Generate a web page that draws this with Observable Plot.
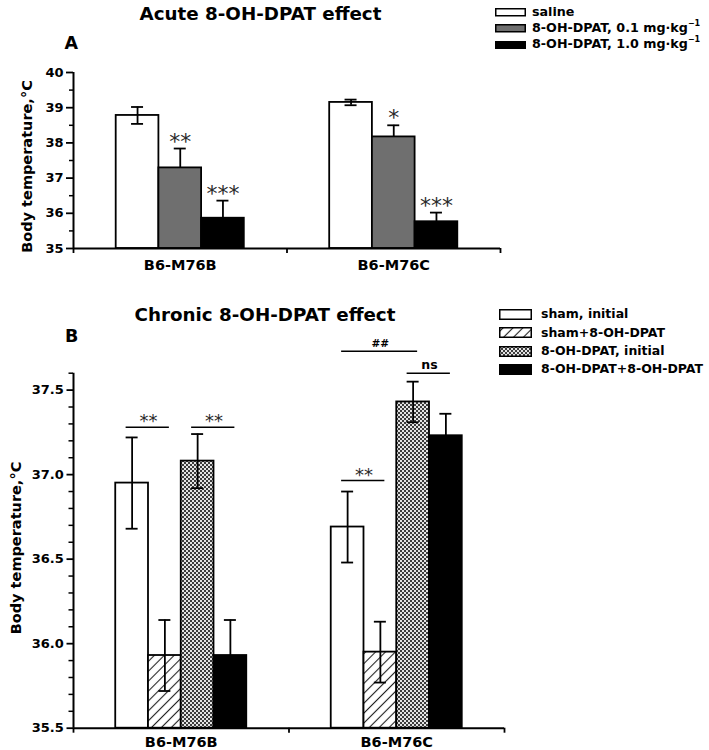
<!DOCTYPE html>
<html><head><meta charset="utf-8">
<script src="https://cdn.jsdelivr.net/npm/d3@7"></script>
<script src="https://cdn.jsdelivr.net/npm/@observablehq/plot@0.6"></script>
<style>
body{margin:0;background:#fff;}
#wrap{position:relative;width:709px;height:750px;font-family:"DejaVu Sans";color:#000;overflow:hidden;background:#fff;}
.abs{position:absolute;white-space:nowrap;line-height:1;font-weight:bold;font-family:"DejaVu Sans";}
.abs sup{font-size:8px;line-height:0;vertical-align:6px;}
</style></head><body><div id="wrap"></div>
<script>
// ---------- data ----------
const groups = ["B6-M76B", "B6-M76C"];

// Panel A: acute effect
const acuteSeries = ["saline", "8-OH-DPAT, 0.1 mg·kg⁻¹", "8-OH-DPAT, 1.0 mg·kg⁻¹"];
const acuteSaline = [38.78, 39.15];
const acuteSalineSem = [0.24, 0.08];
const acuteLow = [37.29, 38.17];
const acuteLowSem = [0.55, 0.33];
const acuteHigh = [35.86, 35.76];
const acuteHighSem = [0.50, 0.26];
const acuteStars = [["", ""], ["**", "*"], ["***", "***"]];
const yTicksA = [35, 36, 37, 38, 39, 40];
const yMinorA = [35.5, 36.5, 37.5, 38.5, 39.5];

// Panel B: chronic effect
const chronicSeries = ["sham, initial", "sham+8-OH-DPAT", "8-OH-DPAT, initial", "8-OH-DPAT+8-OH-DPAT"];
const chronicShamInit = [36.95, 36.69];
const chronicShamInitSem = [0.27, 0.21];
const chronicShamDpat = [35.93, 35.95];
const chronicShamDpatSem = [0.21, 0.18];
const chronicDpatInit = [37.08, 37.43];
const chronicDpatInitSem = [0.16, 0.12];
const chronicDpatDpat = [35.93, 37.23];
const chronicDpatDpatSem = [0.21, 0.13];
const sigGroup = [0, 0, 1, 1, 1];
const sigFrom = [0, 2, 0, 0, 2];
const sigTo = [1, 3, 1, 2, 3];
const sigY = [37.28, 37.28, 36.965, 37.73, 37.60];
const sigLabel = ["**", "**", "**", "##", "ns"];
const yTicksB = [35.5, 36.0, 36.5, 37.0, 37.5];
const yMinorB = [35.6, 35.7, 35.8, 35.9, 36.1, 36.2, 36.3, 36.4, 36.6, 36.7, 36.8, 36.9, 37.1, 37.2, 37.3, 37.4, 37.6];

// ---------- styles ----------
const acuteFill = ["white", "#6f6f6f", "black"];
const chronicFill = ["white", "url(#hatch)", "url(#checker)", "black"];
const FONT = "DejaVu Sans";

const wrap = document.getElementById("wrap");

// pattern defs
const defs = document.createElementNS("http://www.w3.org/2000/svg", "svg");
defs.setAttribute("width", "0"); defs.setAttribute("height", "0");
defs.style.position = "absolute";
defs.innerHTML = `<defs>
<pattern id="hatch" patternUnits="userSpaceOnUse" width="7" height="7" patternTransform="rotate(45)">
<rect width="7" height="7" fill="white"/>
<line x1="3.5" y1="0" x2="3.5" y2="7" stroke="#222" stroke-width="1.1"/>
</pattern>
<pattern id="checker" patternUnits="userSpaceOnUse" width="4" height="4">
<rect width="4" height="4" fill="#e4e4e4"/>
<rect width="2" height="2" fill="#3c3c3c"/>
<rect x="2" y="2" width="2" height="2" fill="#3c3c3c"/>
</pattern></defs>`;
wrap.appendChild(defs);

function center(g, i, n, w) { return g + 0.5 + (i - (n - 1) / 2) * w; }

// ---------- Panel A ----------
const wA = 0.2;
const acuteVals = [acuteSaline, acuteLow, acuteHigh];
const acuteSems = [acuteSalineSem, acuteLowSem, acuteHighSem];
const rowsA = [];
groups.forEach((g, gi) => acuteSeries.forEach((s, si) => {
  const mean = acuteVals[si][gi], sem = acuteSems[si][gi], c = center(gi, si, acuteSeries.length, wA);
  rowsA.push({group: g, series: s, mean, sem, x: c, x1: c - wA / 2, x2: c + wA / 2,
    fill: acuteFill[si], hi: mean + sem, lo: si === 0 ? mean - sem : mean, lower: si === 0, star: acuteStars[si][gi]});
}));

const plotA = Plot.plot({
  width: 709, height: 290, marginLeft: 73, marginRight: 209, marginTop: 72, marginBottom: 42,
  x: {domain: [0, 2], axis: null},
  y: {domain: [35, 40], axis: null},
  color: {type: "identity"},
  style: {fontFamily: FONT, color: "black", background: "transparent", overflow: "visible"},
  marks: [
    Plot.rectY(rowsA, {x1: "x1", x2: "x2", y1: () => 35, y2: "mean", fill: "fill", stroke: "black", strokeWidth: 1.8}),
    Plot.ruleX(rowsA, {x: "x", y1: "lo", y2: "hi", strokeWidth: 1.8}),
    Plot.ruleY(rowsA, {y: "hi", x1: "x", x2: "x", insetLeft: -6, insetRight: -6, strokeWidth: 1.8}),
    Plot.ruleY(rowsA.filter(d => d.lower), {y: "lo", x1: "x", x2: "x", insetLeft: -6, insetRight: -6, strokeWidth: 1.8}),
    Plot.text(rowsA.filter(d => d.star), {x: "x", y: "hi", text: "star", lineAnchor: "bottom", fontSize: 22, fill: "#2a2a2a"}),
    Plot.ruleX([0], {strokeWidth: 2}),
    Plot.ruleY([35], {strokeWidth: 2}),
    Plot.axisY({ticks: yTicksA, tickSize: 7, tickPadding: 3, tickFormat: d3.format("d"), fontSize: 13, fontWeight: "bold", strokeWidth: 1.8, label: null}),
    Plot.axisY({ticks: yMinorA, tickSize: 4, tickFormat: () => "", strokeWidth: 1.5, label: null}),
    Plot.axisX({ticks: [0, 1, 2], tickSize: 5, tickFormat: () => "", strokeWidth: 1.8, label: null}),
    Plot.axisX({ticks: [0.5, 1.5], tickSize: 0, tickPadding: 11.7, tickFormat: v => groups[Math.floor(v)], fontSize: 14.5, fontWeight: "bold", label: null}),
    Plot.text(["Body temperature,°C"], {text: d => d, frameAnchor: "left", textAnchor: "middle", rotate: -90, dx: -46.6, dy: 6, fontSize: 14.5, fontWeight: "bold"})
  ]
});
plotA.style.position = "absolute"; plotA.style.left = "0px"; plotA.style.top = "0px";
wrap.appendChild(plotA);

// ---------- Panel B ----------
const wB = 0.152;
const chronicVals = [chronicShamInit, chronicShamDpat, chronicDpatInit, chronicDpatDpat];
const chronicSems = [chronicShamInitSem, chronicShamDpatSem, chronicDpatInitSem, chronicDpatDpatSem];
const rowsB = [];
groups.forEach((g, gi) => chronicSeries.forEach((s, si) => {
  const mean = chronicVals[si][gi], sem = chronicSems[si][gi], c = center(gi, si, chronicSeries.length, wB);
  const lower = si !== 3;
  rowsB.push({group: g, series: s, mean, sem, x: c, x1: c - wB / 2, x2: c + wB / 2,
    fill: chronicFill[si], hi: mean + sem, lo: lower ? mean - sem : mean, lower});
}));
const sigRows = sigLabel.map((label, k) => {
  const a = center(sigGroup[k], sigFrom[k], chronicSeries.length, wB);
  const b = center(sigGroup[k], sigTo[k], chronicSeries.length, wB);
  return {label, y: sigY[k], x1: a, x2: b, xm: (a + b) / 2, star: label.startsWith("*")};
});

const plotB = Plot.plot({
  width: 709, height: 460, marginLeft: 73, marginRight: 205, marginTop: 82.7, marginBottom: 22.3,
  x: {domain: [0, 2], axis: null},
  y: {domain: [35.5, 37.6], axis: null},
  color: {type: "identity"},
  style: {fontFamily: FONT, color: "black", background: "transparent", overflow: "visible"},
  marks: [
    Plot.rectY(rowsB, {x1: "x1", x2: "x2", y1: () => 35.5, y2: "mean", fill: "fill", stroke: "black", strokeWidth: 1.8}),
    Plot.ruleX(rowsB, {x: "x", y1: "lo", y2: "hi", strokeWidth: 1.8}),
    Plot.ruleY(rowsB, {y: "hi", x1: "x", x2: "x", insetLeft: -6, insetRight: -6, strokeWidth: 1.8}),
    Plot.ruleY(rowsB.filter(d => d.lower), {y: "lo", x1: "x", x2: "x", insetLeft: -6, insetRight: -6, strokeWidth: 1.8}),
    Plot.ruleY(sigRows, {y: "y", x1: "x1", x2: "x2", insetLeft: -6, insetRight: -4.5, strokeWidth: 1.5}),
    Plot.text(sigRows.filter(d => d.star), {x: "xm", y: "y", text: "label", lineAnchor: "bottom", fontSize: 18, fill: "#2a2a2a"}),
    Plot.text(sigRows.filter(d => !d.star), {x: "xm", y: "y", text: "label", lineAnchor: "bottom", dy: -4, fontSize: d => d.label === "##" ? 10.5 : 12.5, fontWeight: "bold"}),
    Plot.ruleX([0], {strokeWidth: 2}),
    Plot.ruleY([35.5], {strokeWidth: 2}),
    Plot.axisY({ticks: yTicksB, tickSize: 6.5, tickPadding: 3.2, tickFormat: d3.format(".1f"), fontSize: 13, fontWeight: "bold", strokeWidth: 1.8, label: null}),
    Plot.axisY({ticks: yMinorB, tickSize: 4.5, tickFormat: () => "", strokeWidth: 1.5, label: null}),
    Plot.axisX({ticks: [0, 1, 2], tickSize: 5, tickFormat: () => "", strokeWidth: 1.8, label: null}),
    Plot.axisX({ticks: [0.5, 1.5], tickSize: 0, tickPadding: 8.7, tickFormat: v => groups[Math.floor(v)], fontSize: 14.5, fontWeight: "bold", label: null}),
    Plot.text(["Body temperature,°C"], {text: d => d, frameAnchor: "left", textAnchor: "middle", rotate: -90, dx: -57, dy: -2.7, fontSize: 14.5, fontWeight: "bold"})
  ]
});
plotB.style.position = "absolute"; plotB.style.left = "0px"; plotB.style.top = "290px";
wrap.appendChild(plotB);

// ---------- titles, panel letters ----------
function addText(html, left, baseline, size, centered) {
  const d = document.createElement("div");
  d.className = "abs";
  d.innerHTML = html;
  d.style.fontSize = size + "px";
  d.style.left = left + "px";
  d.style.top = (baseline - 0.846 * size) + "px";
  if (centered) d.style.transform = "translateX(-50%)";
  wrap.appendChild(d);
  return d;
}
addText("Acute 8-OH-DPAT effect", 260.5, 20.3, 18.3, true);
addText("Chronic 8-OH-DPAT effect", 265, 321.7, 18.3, true);
addText("A", 64.5, 50, 17.5, false);
addText("B", 65, 343.3, 17.5, false);

// ---------- legends ----------
function swatch(fill, left, top, w, h) {
  const s = document.createElementNS("http://www.w3.org/2000/svg", "svg");
  s.setAttribute("width", w); s.setAttribute("height", h);
  s.style.position = "absolute"; s.style.left = left + "px"; s.style.top = top + "px";
  s.innerHTML = `<rect x="0.75" y="0.75" width="${w - 1.5}" height="${h - 1.5}" fill="${fill}" stroke="black" stroke-width="1.5"/>`;
  wrap.appendChild(s);
}
const fmtLabel = s => s.replace("⁻¹", "<sup>−1</sup>");
acuteSeries.forEach((s, i) => {
  const top = 8 + i * 16.3;
  swatch(acuteFill[i], 495, top, 31, 8.5);
  addText(fmtLabel(s), 532, top + 8.3, 12.7, false);
});
chronicSeries.forEach((s, i) => {
  const c = 314.2 + i * 18.4;
  swatch(chronicFill[i], 499, c - 5.5, 33, 11);
  addText(s, 541, c + 4.6, 12.5, false);
});
</script></body></html>
